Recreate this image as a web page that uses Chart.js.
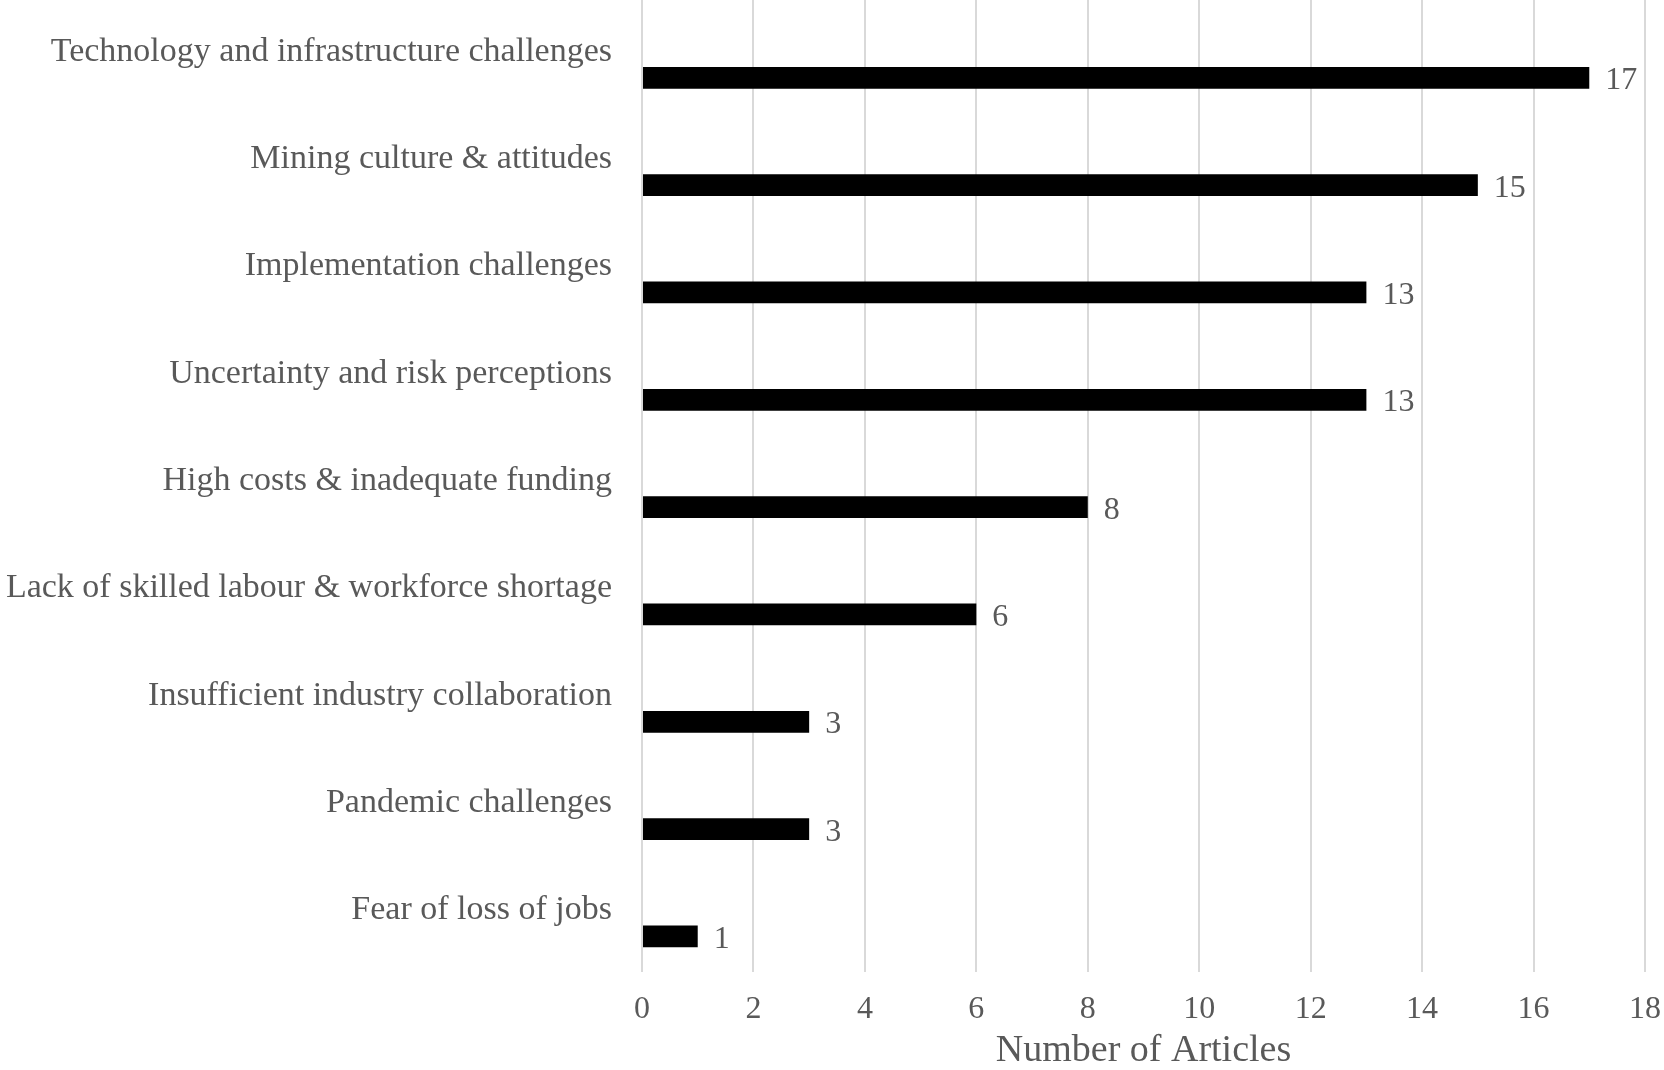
<!DOCTYPE html>
<html>
<head>
<meta charset="utf-8">
<script src="https://cdn.jsdelivr.net/npm/chart.js@4"></script>
<style>
  html, body { margin: 0; padding: 0; background: #fff; overflow: hidden; }
</style>
</head>
<body>
<canvas id="myChart" width="1664" height="1070"></canvas>
<script>
let labels = [
    'Technology and infrastructure challenges',
    'Mining culture & attitudes',
    'Implementation challenges',
    'Uncertainty and risk perceptions',
    'High costs & inadequate funding',
    'Lack of skilled labour & workforce shortage',
    'Insufficient industry collaboration',
    'Pandemic challenges',
    'Fear of loss of jobs',
];

let articles = [17, 15, 13, 13, 8, 6, 3, 3, 1];

let xTicks = [0, 2, 4, 6, 8, 10, 12, 14, 16, 18];

const fontFamily = '"Liberation Serif", "DejaVu Serif", serif';
const textColor = '#595959';

/* value labels to the right of each bar */
const valueLabels = {
    id: 'valueLabels',
    afterDatasetsDraw(chart) {
        let ctx = chart.ctx;
        let meta = chart.getDatasetMeta(1);
        ctx.save();
        ctx.font = '32px ' + fontFamily;
        ctx.fillStyle = textColor;
        ctx.textAlign = 'left';
        ctx.textBaseline = 'middle';
        meta.data.forEach((bar, i) => {
            ctx.fillText(articles[i], bar.x + 16, bar.y + 3);
        });
        ctx.restore();
    }
};

let data = {
    labels: labels,
    datasets: [{
        // empty first series, keeps the bars in the lower half of each row
        label: '',
        data: [],
    }, {
        label: 'Number of Articles',
        backgroundColor: '#000000',
        borderWidth: 0,
        data: articles,
    }]
};

let config = {
    type: 'bar',
    data: data,
    options: {
        indexAxis: 'y',
        responsive: false,
        animation: false,
        devicePixelRatio: 1,
        layout: { padding: { top: 0, right: 19, bottom: 0, left: 0 } },
        datasets: {
            bar: { categoryPercentage: 0.9, barPercentage: 0.45 }
        },
        plugins: {
            legend: { display: false },
            tooltip: { enabled: false },
        },
        scales: {
            x: {
                min: 0,
                max: 18,
                afterBuildTicks: (scale) => { scale.ticks = xTicks.map(v => ({ value: v })); },
                afterFit: (scale) => {
                    scale.height = 104;
                    scale.paddingLeft = 0;
                    scale.paddingRight = 0;
                },
                grid: { color: '#d9d9d9', lineWidth: 2, tickLength: 6 },
                border: { display: false },
                ticks: {
                    color: textColor,
                    padding: 18,
                    font: { family: fontFamily, size: 32 },
                },
                title: {
                    display: true,
                    text: 'Number of Articles',
                    color: textColor,
                    padding: { top: 0, bottom: 0 },
                    font: { family: fontFamily, size: 38, lineHeight: 1 },
                },
            },
            y: {
                afterFit: (scale) => {
                    scale.width = 642;
                    scale.paddingTop = 0;
                    scale.paddingBottom = 0;
                },
                grid: { display: false },
                border: { color: '#d9d9d9', width: 2 },
                ticks: {
                    color: textColor,
                    padding: 22,
                    labelOffset: -2,
                    font: { family: fontFamily, size: 34 },
                },
            },
        },
    },
    plugins: [valueLabels],
};

var myChart = new Chart(
    document.getElementById('myChart').getContext('2d'),
    config
);
</script>
</body>
</html>
